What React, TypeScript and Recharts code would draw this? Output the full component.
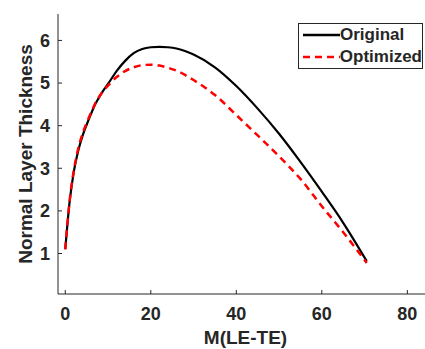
import { LineChart, Line, XAxis, YAxis } from 'recharts'

const mValues = [0, 1, 2, 3, 4, 5, 6, 7, 8, 9, 10, 12, 14, 16, 18, 20, 22, 24, 26, 28, 30, 35, 40, 45, 50, 55, 60, 65, 70.5]
const original = [1.1, 2.2, 2.92, 3.4, 3.75, 4.02, 4.27, 4.5, 4.68, 4.84, 4.98, 5.28, 5.52, 5.7, 5.8, 5.84, 5.85, 5.84, 5.81, 5.75, 5.67, 5.37, 4.93, 4.4, 3.81, 3.15, 2.45, 1.72, 0.82]
const optimized = [1.1, 2.22, 2.95, 3.45, 3.8, 4.06, 4.3, 4.52, 4.69, 4.83, 4.94, 5.14, 5.28, 5.37, 5.42, 5.43, 5.41, 5.36, 5.29, 5.19, 5.07, 4.72, 4.25, 3.77, 3.28, 2.75, 2.11, 1.5, 0.78]
const xTicks = [0, 20, 40, 60, 80]
const yTicks = [1, 2, 3, 4, 5, 6]

const data = mValues.map((m, i) => ({ m, original: original[i], optimized: optimized[i] }))

const font = "'Liberation Sans', Arial, sans-serif"
const ink = '#262626'
const tickStyle = { fontSize: 18, fontWeight: 700, fill: ink, fontFamily: font }
const labelStyle = { fontSize: 19, fontWeight: 700, fill: ink, fontFamily: font }

const legendItems = [
  { name: 'Original', stroke: '#000', dash: undefined },
  { name: 'Optimized', stroke: '#ff0000', dash: '7 5' },
]

const ChartLegend = () => (
  <div style={{ position: 'absolute', left: 298, top: 23, width: 123, height: 44, border: `1px solid ${ink}`, background: '#fff', fontFamily: font, fontWeight: 700, fontSize: 17, color: ink }}>
    {legendItems.map((e) => (
      <div key={e.name} style={{ display: 'flex', alignItems: 'center', height: 22 }}>
        <svg width={37} height={10} style={{ marginLeft: 4 }}>
          <line x1={0} y1={5} x2={37} y2={5} stroke={e.stroke} strokeWidth={2.5} strokeDasharray={e.dash} />
        </svg>
        <span>{e.name}</span>
      </div>
    ))}
  </div>
)

export default function App() {
  return (
    <div style={{ position: 'absolute', left: 0, top: 0, width: 425, height: 349, overflow: 'hidden', background: '#fff' }}>
      <style>{'body{margin:0}'}</style>
      <LineChart width={433} height={349} data={data} margin={{ top: 14, right: 0, left: 0, bottom: 0 }}>
        <XAxis
          xAxisId="top"
          orientation="top"
          dataKey="m"
          type="number"
          domain={[-1.7, 86]}
          ticks={xTicks}
          tickFormatter={() => ''}
          height={0}
          tickSize={-4}
          stroke={ink}
          allowDataOverflow
        />
        <XAxis
          dataKey="m"
          type="number"
          domain={[-1.7, 86]}
          ticks={xTicks}
          height={55}
          tickSize={-4}
          tickMargin={17}
          tick={tickStyle}
          stroke={ink}
          allowDataOverflow
          label={{ value: 'M(LE-TE)', position: 'insideBottom', offset: 5, style: labelStyle }}
        />
        <YAxis
          type="number"
          domain={[0.05, 6.62]}
          ticks={yTicks}
          width={58}
          tickSize={-4}
          tickMargin={12}
          tick={tickStyle}
          stroke={ink}
          allowDataOverflow
          label={{ value: 'Normal Layer Thickness', angle: -90, position: 'insideLeft', offset: 25, style: { ...labelStyle, textAnchor: 'middle' } }}
        />
        <Line dataKey="original" type="monotone" stroke="#000" strokeWidth={2.2} dot={false} isAnimationActive={false} />
        <Line dataKey="optimized" type="monotone" stroke="#ff0000" strokeWidth={2.5} strokeDasharray="7 5" dot={false} isAnimationActive={false} />
      </LineChart>
      <ChartLegend />
    </div>
  )
}
